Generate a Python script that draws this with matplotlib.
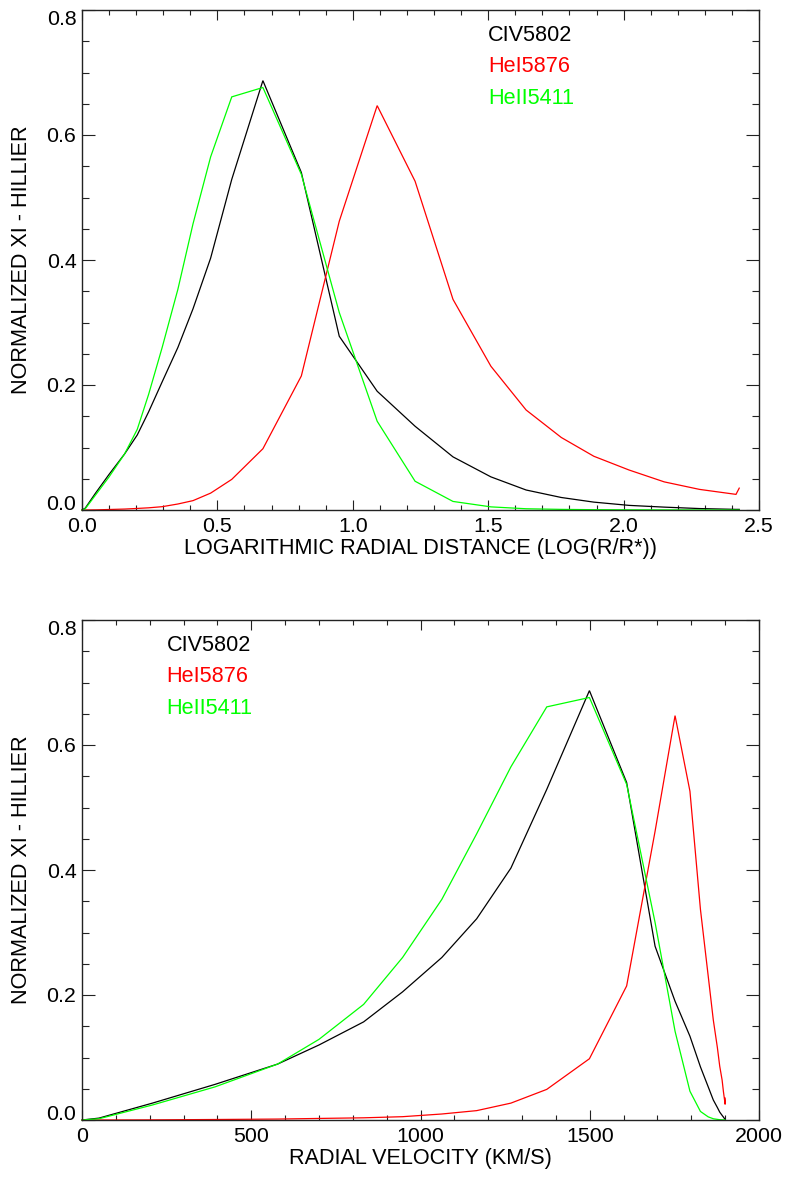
"""
Normalized Hillier XI contribution functions for three wind lines, shown
against log radial distance and against the radial velocity of the wind.
"""

import matplotlib

matplotlib.use("Agg")
import matplotlib.pyplot as plt
from matplotlib.ticker import FixedLocator, MultipleLocator, FormatStrFormatter

plt.rcParams["font.family"] = ["Liberation Sans", "DejaVu Sans"]
plt.rcParams["font.size"] = 15.6

# -----------------------------------------------------------------------------
# Data
# -----------------------------------------------------------------------------

# depth grid, log(r/R*)
log_r = [
    0.0, 0.012, 0.05, 0.10, 0.157, 0.204, 0.246, 0.296, 0.354, 0.41,
    0.475, 0.553, 0.668, 0.81, 0.95, 1.09, 1.23, 1.37, 1.51, 1.64,
    1.77, 1.89, 2.02, 2.15, 2.28, 2.415, 2.427,
]

# wind velocity at the same depth points, km/s
velocity = [
    0, 50, 208, 393, 578, 700, 832, 947, 1063, 1166,
    1267, 1373, 1499, 1609, 1693, 1752, 1796, 1827, 1850, 1865,
    1877, 1884, 1891, 1895, 1898, 1900, 1900,
]

xi_civ5802 = [
    0.0, 0.003, 0.027, 0.057, 0.0895, 0.12, 0.157, 0.205, 0.26, 0.322,
    0.403, 0.529, 0.687, 0.540, 0.278, 0.190, 0.134, 0.085, 0.053, 0.032,
    0.020, 0.0126, 0.0074, 0.0046, 0.0023, 0.001, 0.001,
]

xi_hei5876 = [
    0.0, 0.0, 0.0002, 0.0008, 0.0015, 0.0025, 0.0035, 0.0053, 0.0096, 0.015,
    0.027, 0.049, 0.098, 0.2145, 0.462, 0.647, 0.526, 0.337, 0.230, 0.160,
    0.116, 0.086, 0.064, 0.045, 0.033, 0.025, 0.035,
]

xi_heii5411 = [
    0.0, 0.002, 0.024, 0.053, 0.0895, 0.129, 0.185, 0.26, 0.353, 0.458,
    0.565, 0.661, 0.676, 0.537, 0.316, 0.142, 0.046, 0.0137, 0.005, 0.002,
    0.001, 0.0005, 0.0003, 0.0002, 0.0001, 0.0, 0.0,
]

line_names = ["CIV5802", "HeI5876", "HeII5411"]
line_colors = ["black", "#ff0000", "#00ff00"]

W, H = 785, 1180


def style_axes(ax, xlim, x_major, x_minor, x_fmt):
    ax.set_xlim(*xlim)
    ax.set_ylim(0.0, 0.8)
    ax.xaxis.set_major_locator(MultipleLocator(x_major))
    ax.xaxis.set_minor_locator(MultipleLocator(x_minor))
    ax.xaxis.set_major_formatter(FormatStrFormatter(x_fmt))
    ax.yaxis.set_major_locator(FixedLocator([0.0, 0.2, 0.4, 0.6, 0.8]))
    ax.yaxis.set_minor_locator(MultipleLocator(0.05))
    ax.yaxis.set_major_formatter(FormatStrFormatter("%.1f"))

    for spine in ax.spines.values():
        spine.set_linewidth(1.0)
        spine.set_color("#222222")

    ax.tick_params(axis="both", which="both", direction="in",
                   top=True, right=True, width=0.8, colors="#222222",
                   labelcolor="black", labelsize=15.4)
    ax.tick_params(axis="x", which="major", length=7.5, pad=5.2)
    ax.tick_params(axis="x", which="minor", length=3.8)
    ax.tick_params(axis="y", which="major", length=9.7, pad=4.0)
    ax.tick_params(axis="y", which="minor", length=4.9)

    ax.set_ylabel("NORMALIZED XI - HILLIER", va="center")
    ax.yaxis.set_label_coords((21.7 - 82) / 677, 0.5)


def fix_edge_labels(fig, ax):
    # keep the 0.0 and 0.8 labels inside the frame height
    fig.canvas.draw()
    labels = ax.get_yticklabels()
    labels[0].set_va("baseline")
    labels[-1].set_va("top")


def draw_panel(ax, xs):
    for ys, color in zip([xi_civ5802, xi_hei5876, xi_heii5411], line_colors):
        ax.plot(xs, ys, color=color, linewidth=0.9, clip_on=False,
                solid_joinstyle="miter")


def draw_names(ax, x):
    for y, name, color in zip([0.75, 0.70, 0.65], line_names, line_colors):
        ax.text(x, y, name, color=color, fontsize=15.6, va="baseline")


def main() -> None:
    fig = plt.figure(figsize=(W / 100, H / 100), dpi=100)
    fig.patch.set_facecolor("white")

    ax_top = fig.add_axes([82 / W, 1 - 510 / H, 677 / W, 500 / H])
    ax_bot = fig.add_axes([82 / W, 1 - 1120 / H, 677 / W, 500 / H])

    # top: contribution versus depth
    draw_panel(ax_top, log_r)
    style_axes(ax_top, (0.0, 2.5), 0.5, 0.1, "%.1f")
    draw_names(ax_top, 1.5)
    ax_top.set_xlabel("LOGARITHMIC RADIAL DISTANCE (LOG(R/R*))", labelpad=1)

    # bottom: contribution versus wind velocity
    draw_panel(ax_bot, velocity)
    style_axes(ax_bot, (0, 2000), 500, 100, "%d")
    draw_names(ax_bot, 250)
    ax_bot.set_xlabel("RADIAL VELOCITY (KM/S)", labelpad=1)

    fix_edge_labels(fig, ax_top)
    fix_edge_labels(fig, ax_bot)

    fig.savefig("out.png", dpi=100, facecolor="white")


if __name__ == "__main__":
    main()
